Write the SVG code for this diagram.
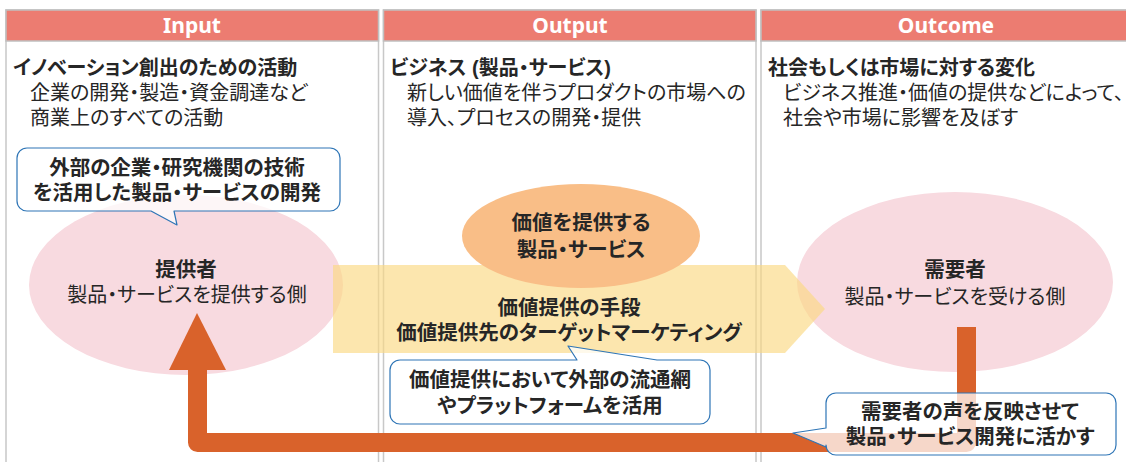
<svg xmlns="http://www.w3.org/2000/svg" width="1126" height="462" viewBox="0 0 1126 462">
<style>
.col{fill:#fff;stroke:#c8c8c8;stroke-width:1.5}
.hdr{fill:#ec7c71;stroke:#c0c0c0;stroke-width:1.5}
.htx{font-family:"Noto Sans","DejaVu Sans",sans-serif;font-weight:700;font-size:21px;fill:#fff;text-anchor:middle}
.jp{font-family:"Liberation Sans","Noto Sans CJK JP",sans-serif;font-size:20px;fill:#262626;font-feature-settings:"palt" 1}
.b{font-weight:700}
.c{text-anchor:middle}
.s{font-size:20.5px}
.pink{fill:#f8dae0}
.bubble{fill:#fff;fill-opacity:0.75;stroke:#2e75b6;stroke-width:1.2;stroke-linejoin:round}
</style>
<rect width="1126" height="462" fill="#fff"/>
<g id="col-input">
<rect class="col" x="6" y="10" width="372.5" height="470"/>
<rect class="hdr" x="6" y="10" width="372.5" height="31"/>
<text class="htx" x="192" y="33">Input</text>
<text class="jp"><tspan class="b" x="13" y="75">イノベーション創出のための活動</tspan><tspan x="30" y="100">企業の開発・製造・資金調達など</tspan><tspan x="30" y="125">商業上のすべての活動</tspan></text>
</g>
<g id="col-output">
<rect class="col" x="383.5" y="10" width="372.5" height="470"/>
<rect class="hdr" x="383.5" y="10" width="372.5" height="31"/>
<text class="htx" x="570" y="33">Output</text>
<text class="jp"><tspan class="b" x="390" y="75">ビジネス (製品・サービス)</tspan><tspan x="407" y="100">新しい価値を伴うプロダクトの市場への</tspan><tspan x="407" y="125">導入、プロセスの開発・提供</tspan></text>
</g>
<g id="col-outcome">
<rect class="col" x="761" y="10" width="372" height="470"/>
<rect class="hdr" x="761" y="10" width="372" height="31"/>
<text class="htx" x="946" y="33">Outcome</text>
<text class="jp"><tspan class="b" x="768" y="75">社会もしくは市場に対する変化</tspan><tspan x="783" y="100">ビジネス推進・価値の提供などによって、</tspan><tspan x="783" y="125">社会や市場に影響を及ぼす</tspan></text>
</g>
<g id="provider">
<ellipse class="pink" cx="186" cy="285" rx="157" ry="90"/>
</g>
<g id="consumer">
<ellipse class="pink" cx="955" cy="282" rx="158" ry="90"/>
</g>
<g id="value-means">
<polygon points="333,265 785,265 825,309 785,353 333,353" fill="#fad982" fill-opacity="0.65"/>
<text class="jp b c s"><tspan x="569" y="315">価値提供の手段</tspan><tspan x="569" y="340">価値提供先のターゲットマーケティング</tspan></text>
</g>
<g id="provider-text">
<text class="jp c"><tspan class="b s" x="186" y="277">提供者</tspan><tspan x="187" y="302">製品・サービスを提供する側</tspan></text>
</g>
<g id="consumer-text">
<text class="jp c"><tspan class="b s" x="955" y="277">需要者</tspan><tspan x="955" y="304">製品・サービスを受ける側</tspan></text>
</g>
<g id="product">
<ellipse cx="581" cy="236" rx="119" ry="52" fill="#f9be87"/>
<text class="jp b c s"><tspan x="581" y="230">価値を提供する</tspan><tspan x="581" y="257">製品・サービス</tspan></text>
</g>
<g id="connectors">
<path d="M966.5,327 V442.5 H197.5 V368" fill="none" stroke="#d9622b" stroke-width="19" stroke-linejoin="round"/>
<polygon points="197,313 226,370 169,370" fill="#d9622b"/>
</g>
<g id="callout-tech">
<path class="bubble" d="M27,148 H330 A10,10 0 0 1 340,158 V201 A10,10 0 0 1 330,211 H174 L177,225 L151,211 H27 A10,10 0 0 1 17,201 V158 A10,10 0 0 1 27,148 Z"/>
<text class="jp b c s"><tspan x="177" y="175">外部の企業・研究機関の技術</tspan><tspan x="177" y="200">を活用した製品・サービスの開発</tspan></text>
</g>
<g id="callout-channel">
<path class="bubble" d="M400,360 H577 L568,346 L657,360 H700 A10,10 0 0 1 710,370 V414 A10,10 0 0 1 700,424 H400 A10,10 0 0 1 390,414 V370 A10,10 0 0 1 400,360 Z"/>
<text class="jp b c s"><tspan x="550" y="387">価値提供において外部の流通網</tspan><tspan x="550" y="413">やプラットフォームを活用</tspan></text>
</g>
<g id="callout-feedback">
<path class="bubble" d="M836,393 H1106 A10,10 0 0 1 1116,403 V445 A10,10 0 0 1 1106,455 H836 A10,10 0 0 1 826,445 V447 L793,433 L826,428 V403 A10,10 0 0 1 836,393 Z"/>
<text class="jp b c s"><tspan x="970" y="419">需要者の声を反映させて</tspan><tspan x="970" y="444">製品・サービス開発に活かす</tspan></text>
</g>
</svg>
